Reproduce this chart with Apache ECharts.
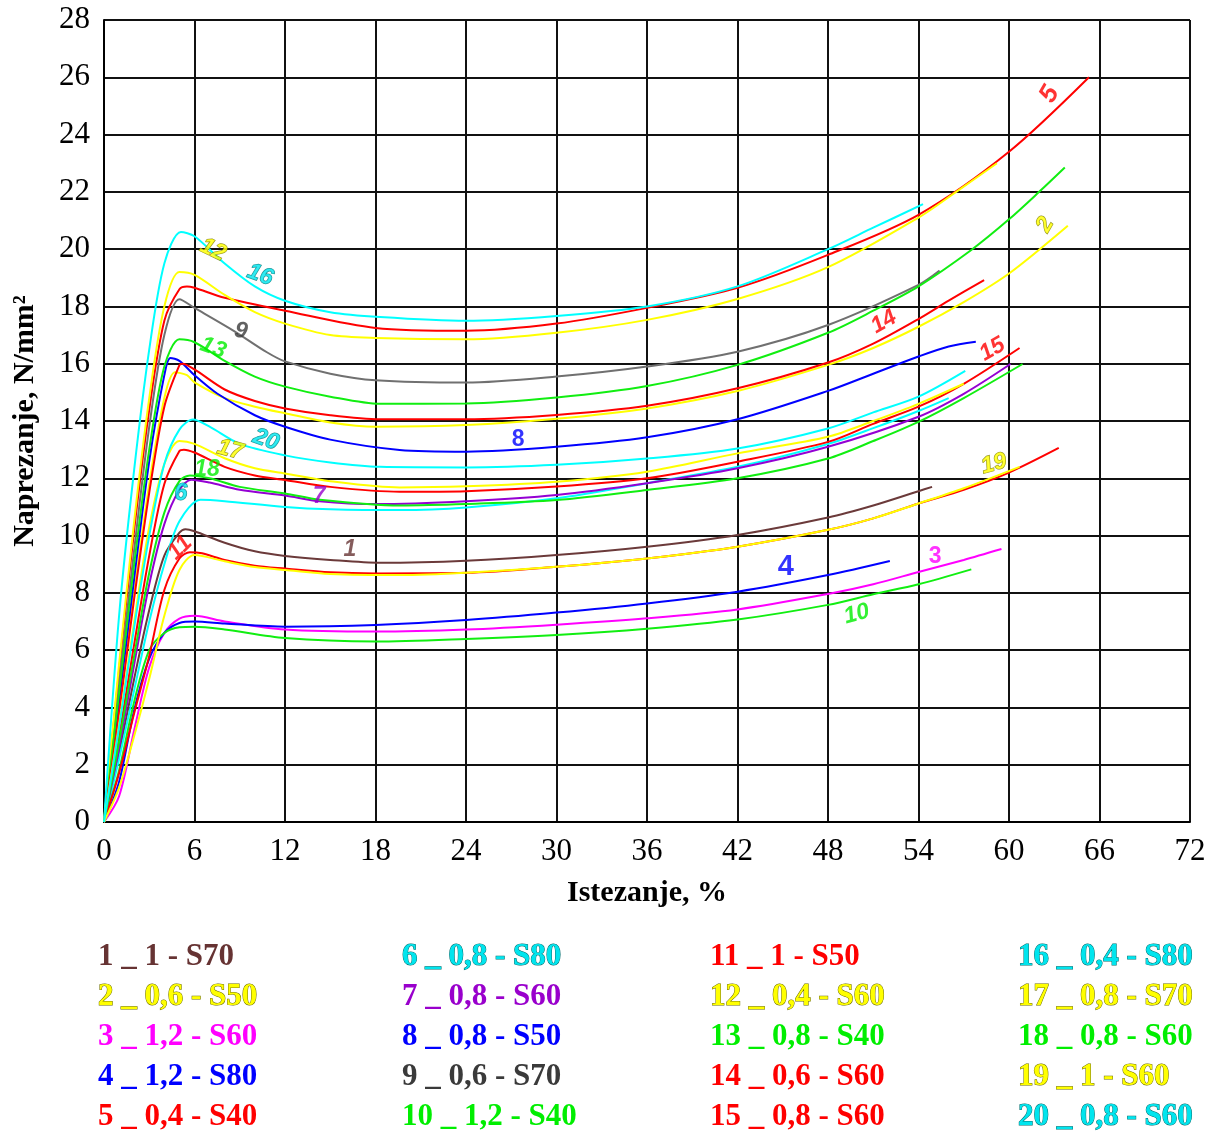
<!DOCTYPE html>
<html><head><meta charset="utf-8">
<script src="https://cdn.jsdelivr.net/npm/echarts@6/dist/echarts.min.js"></script>
<style>html,body{margin:0;padding:0;background:#fff}#c{width:1219px;height:1135px}</style>
</head><body><div id="c"></div>
<script>
// ---- data (elongation %, stress N/mm2) ----
const c1 = [[0,0],[1,2.4],[2,5],[3,7.4],[4,9.3],[5,10.1],[5.4,10.22],[6,10.15],[8,9.75],[10,9.45],[12,9.29],[15,9.15],[18.3,9.05],[24,9.12],[30,9.32],[36,9.61],[42,10.02],[48,10.63],[51,11.05],[54,11.55],[54.9,11.7]];
const c2 = [[0,0],[1,4],[2,8],[3,11.8],[4,14.8],[4.7,15.7],[5.5,15.6],[6,15.35],[8,14.8],[10,14.5],[12,14.27],[15,13.95],[18,13.8],[24,13.86],[30,14.08],[36,14.44],[42,15.05],[48,15.96],[51,16.55],[54,17.29],[57,18.15],[60,19.15],[63.9,20.82]];
const c3 = [[0,0],[1,0.9],[2,3.2],[3,5.4],[4,6.6],[5,7.1],[6,7.2],[8,7.0],[12,6.72],[18,6.65],[24,6.72],[30,6.89],[36,7.11],[42,7.42],[48,7.96],[51,8.3],[54,8.73],[57,9.15],[59.5,9.53]];
const c4 = [[0,0],[1,1.4],[2,3.9],[3,5.7],[4,6.6],[5,6.95],[6,7.0],[8,6.93],[12,6.82],[18,6.88],[24,7.05],[30,7.31],[36,7.63],[42,8.04],[48,8.62],[52.1,9.11]];
const c5 = [[0,0],[1,5.3],[2,10.2],[3,14.4],[4,17.5],[5,18.6],[5.5,18.7],[6,18.65],[8,18.3],[12,17.85],[18,17.25],[24,17.15],[30,17.4],[36,17.95],[42,18.65],[48,19.8],[54,21.2],[60,23.4],[65.3,26]];
const c6 = [[0,0],[1,2.2],[2,4.6],[3,7.0],[4,9.0],[5,10.5],[6.4,11.25],[8,11.2],[12,11.0],[15,10.92],[19.6,10.89],[24,10.98],[30,11.3],[36,11.83],[42,12.4],[48,13.2],[51,13.75],[54,14.35],[56,14.8]];
const c7 = [[0,0],[1,2.6],[2,5.5],[3,8.3],[4,10.4],[5,11.6],[5.8,11.95],[7,11.85],[9,11.6],[12,11.4],[14.3,11.2],[18,11.1],[24,11.2],[30,11.42],[36,11.83],[42,12.35],[48,13.1],[54,14.15],[57,14.95],[60.1,15.99]];
const c8 = [[0,0],[1,4.2],[2,8.5],[3,12.6],[4,15.6],[4.4,16.2],[5,16.1],[6,15.6],[7.5,14.96],[10,14.2],[12,13.8],[15,13.35],[19.6,12.99],[24,12.93],[30,13.1],[36,13.43],[42,14.06],[48,15.05],[51,15.65],[54,16.25],[56,16.6],[57.8,16.77]];
const c9 = [[0,0],[1,4.8],[2,9.5],[3,13.8],[4,17],[5,18.25],[6,17.95],[8.6,17.15],[10.8,16.4],[12,16.08],[15,15.65],[18,15.42],[24,15.34],[30,15.55],[36,15.9],[42,16.42],[48,17.35],[54,18.75],[55.4,19.25]];
const c10 = [[0,0],[1,1.8],[2,4.2],[3,6.0],[4,6.6],[5,6.8],[6,6.82],[8,6.72],[12,6.42],[18,6.3],[24,6.39],[30,6.53],[36,6.75],[42,7.07],[48,7.58],[51,7.95],[54,8.3],[57.5,8.82]];
const c11 = [[0,0],[1,1.7],[2,3.8],[3,5.8],[4,8.1],[5,9.2],[5.7,9.42],[6.5,9.38],[8,9.15],[10,8.95],[12,8.85],[15,8.72],[18,8.68],[24,8.7],[30,8.91],[36,9.2],[42,9.61],[48,10.2],[51,10.6],[54,11.12],[57,11.6],[60,12.2],[63.3,13.06]];
const c12 = [[0,0],[1,5.5],[2,10.5],[3,14.8],[4,18],[5,19.2],[6,19.1],[8,18.4],[10,17.8],[12,17.4],[15,17.0],[18,16.9],[24,16.85],[30,17.08],[36,17.53],[42,18.26],[48,19.37],[54,21.1],[56.5,22.0],[59.2,23.0]];
const c13 = [[0,0],[1,4.5],[2,9],[3,13],[4,15.9],[5,16.85],[6,16.75],[8,16.1],[10,15.55],[12,15.2],[15,14.85],[18.3,14.6],[24,14.61],[30,14.82],[36,15.22],[42,15.96],[48,17.08],[51,17.85],[54,18.7],[57.5,19.97],[60,21.04],[62,22.0],[63.7,22.85]];
const c14 = [[0,0],[1,3.8],[2,7.8],[3,11.5],[4,14.5],[5,15.95],[5.2,16.0],[6,15.8],[8,15.1],[10,14.7],[12,14.44],[15,14.2],[18.3,14.06],[24,14.06],[30,14.21],[36,14.53],[42,15.14],[48,16.04],[51,16.7],[54,17.56],[56,18.2],[58.35,18.92]];
const c15 = [[0,0],[1,3],[2,6.2],[3,9.3],[4,11.8],[5,12.95],[5.3,13.0],[6,12.9],[8,12.4],[10,12.1],[12,11.94],[15,11.7],[19.6,11.53],[24,11.55],[30,11.71],[36,12.0],[42,12.58],[48,13.27],[51,13.9],[54,14.5],[57,15.3],[60.7,16.55]];
const c16 = [[0,0],[1,7.2],[2,12.3],[3,16.5],[4,19.5],[5.1,20.6],[6,20.45],[8,19.5],[10,18.7],[12,18.2],[15,17.8],[18.3,17.63],[24,17.5],[30,17.67],[36,18.0],[42,18.7],[48,20.0],[51,20.75],[54.3,21.57]];
const c17 = [[0,0],[1,3.4],[2,7],[3,10.3],[4,12.5],[5,13.3],[6,13.2],[8,12.7],[10,12.35],[12,12.17],[15,11.9],[19.6,11.68],[24,11.72],[30,11.88],[36,12.23],[42,12.87],[48,13.45],[51,14.0],[54,14.6],[57,15.3]];
const c18 = [[0,0],[1,2.8],[2,5.8],[3,8.7],[4,10.8],[5,11.9],[5.7,12.1],[7,12.0],[9,11.7],[12,11.47],[14.3,11.25],[19.6,11.05],[24,11.1],[30,11.24],[36,11.59],[42,12.0],[48,12.69],[51,13.3],[54,13.97],[57,14.8],[60.9,15.99]];
const c19 = [[0,0],[1,1.2],[2,3.0],[3,5.0],[4,7.2],[5,8.8],[6,9.32],[8,9.1],[10,8.9],[12,8.8],[15,8.66],[19.6,8.62],[24,8.7],[30,8.91],[36,9.2],[42,9.61],[48,10.2],[51,10.6],[54,11.12],[57,11.65],[60.7,12.4]];
const c20 = [[0,0],[1,3.3],[2,6.8],[3,10],[4,12.5],[5,13.7],[5.9,14.05],[7,13.8],[9,13.2],[12,12.8],[15,12.55],[18.3,12.4],[24,12.38],[30,12.47],[36,12.69],[42,13.04],[48,13.74],[51,14.3],[54,14.85],[57.1,15.75]];

const curves = [c1,c2,c3,c4,c5,c6,c7,c8,c9,c10,c11,c12,c13,c14,c15,c16,c17,c18,c19,c20];
const legendTexts = ['1 _ 1 - S70','2 _ 0,6 - S50','3 _ 1,2 - S60','4 _ 1,2 - S80','5 _ 0,4 - S40',
  '6 _ 0,8 - S80','7 _ 0,8 - S60','8 _ 0,8 - S50','9 _ 0,6 - S70','10 _ 1,2 - S40',
  '11 _ 1 - S50','12 _ 0,4 - S60','13 _ 0,8 - S40','14 _ 0,6 - S60','15 _ 0,8 - S60',
  '16 _ 0,4 - S80','17 _ 0,8 - S70','18 _ 0,8 - S60','19 _ 1 - S60','20 _ 0,8 - S60'];
const xTicks = [0,6,12,18,24,30,36,42,48,54,60,66,72];
const yTicks = [0,2,4,6,8,10,12,14,16,18,20,22,24,26,28];
// curve number labels: [x, y, text, rotate]
const curveLabels = [[16.3,9.5,'1',0],[62.4,20.85,'2',60],[55.1,9.25,'3',0],[45.2,8.9,'4',0],[62.7,25.4,'5',60],
  [5.1,11.45,'6',0],[14.26,11.35,'7',0],[27.45,13.34,'8',0],[9.08,17.14,'9',-10],[49.9,7.26,'10',15],
  [5.04,9.57,'11',45],[7.23,19.97,'12',-25],[7.23,16.55,'13',-20],[51.7,17.46,'14',30],[58.9,16.5,'15',30],
  [10.35,19.1,'16',-20],[8.36,12.99,'17',-15],[6.83,12.29,'18',0],[59.0,12.5,'19',15],[10.74,13.34,'20',-20]];

// ---- styles ----
const lineColors = ['#6b3a3a','#ffff00','#ff00ff','#0000ff','#ff0000','#00ffff','#9400d3','#0000ff','#707070','#11ee11',
  '#ff0000','#ffff00','#11ee11','#ff0000','#ff0000','#00ffff','#ffff00','#11ee11','#ffff00','#00ffff'];
const textColors = ['#663333','#ffff00','#ff00ff','#0000ff','#ff0000','#00e5ee','#9900cc','#0000ff','#3a3a3a','#00ee00',
  '#ff0000','#ffff00','#00ee00','#ff0000','#ff0000','#00e5ee','#ffff00','#00ee00','#ffff00','#00e5ee'];
const outline = c => c==='#ffff00' ? '#6b6b00' : (c==='#00e5ee' ? '#006b6b' : null);

const chart = echarts.init(document.getElementById('c'), null, {renderer:'canvas'});
const series = curves.map((d,i)=>({
  type:'line', data:d, showSymbol:false, symbol:'none', smooth:0.3, silent:true,
  lineStyle:{color:lineColors[i], width:2}, z:2
}));
series.push({
  type:'scatter', symbolSize:0, silent:true, z:5,
  data: curveLabels.map(l=>{
    const idx = parseInt(l[2],10)-1;
    const col = textColors[idx];
    const ol = outline(col);
    return {value:[l[0],l[1]], label:{show:true, position:'inside', formatter:l[2], rotate:l[3],
      color:col, fontFamily:'Liberation Sans', fontWeight:'bold', fontStyle: (l[2]==='8'||l[2]==='4'||l[2]==='3')?'normal':'italic',
      fontSize: l[2]==='4'?29:(l[2]==='5'?26:23),
      textBorderColor: ol||'transparent', textBorderWidth: ol?1:0}};
  })
});

const graphics = legendTexts.map((t,i)=>{
  const col = Math.floor(i/5), row = i%5;
  const xs = [98,402,710,1018];
  const c = textColors[i];
  const ol = outline(c);
  return {type:'text', x:xs[col], y:957+row*40, silent:true,
    style:{text:t, fill:c, stroke: ol||null, lineWidth: ol?1:0,
      font:'bold 31px "Liberation Serif"', verticalAlign:'middle', align:'left'}};
});

chart.setOption({
  animation:false,
  backgroundColor:'#fff',
  grid:{left:104, right:29, top:20, bottom:313, containLabel:false, outerBoundsMode:'none'},
  xAxis:{type:'value', min:0, max:72, interval:6,
    name:'Istezanje, %', nameLocation:'middle', nameGap:56,
    nameTextStyle:{fontFamily:'Liberation Serif', fontWeight:'bold', fontSize:30, color:'#000', verticalAlign:'top'},
    axisLine:{show:true, lineStyle:{color:'#000', width:2}},
    axisTick:{show:false},
    axisLabel:{color:'#000', fontFamily:'Liberation Serif', fontSize:31, margin:14},
    splitLine:{show:true, lineStyle:{color:'#111', width:2}}},
  yAxis:{type:'value', min:0, max:28, interval:2,
    name:'Naprezanje, N/mm²', nameLocation:'middle', nameGap:64, nameRotate:90,
    nameTextStyle:{fontFamily:'Liberation Serif', fontWeight:'bold', fontSize:30, color:'#000'},
    axisLine:{show:true, lineStyle:{color:'#000', width:2}},
    axisTick:{show:false},
    axisLabel:{color:'#000', fontFamily:'Liberation Serif', fontSize:31, margin:14},
    splitLine:{show:true, lineStyle:{color:'#111', width:2}}},
  series: series,
  graphic: graphics
});
</script></body></html>
